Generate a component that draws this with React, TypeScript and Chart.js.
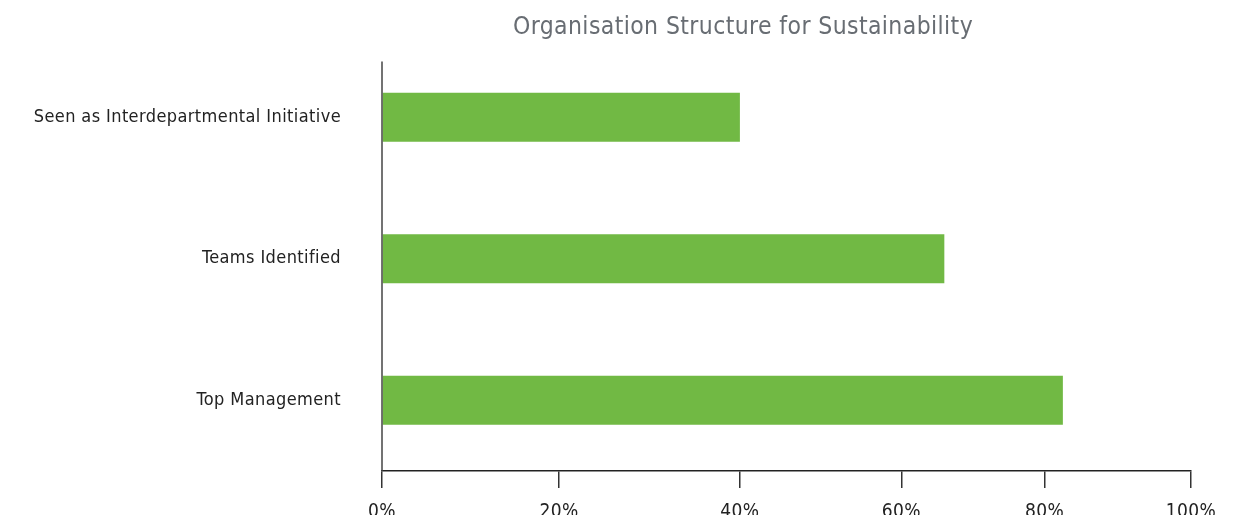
import React, { useEffect, useRef } from "react";
import { Chart, registerables, LinearScale } from "chart.js";

const chartTitle = "Organisation Structure for Sustainability";
const categories = [
  "Seen as Interdepartmental Initiative",
  "Teams Identified",
  "Top Management",
];
const shareValues = [40, 66, 82.5];
const tickValues = [0, 20, 40, 60, 80, 100];

// Axis layout: relative position of each tick along the (uneven) reference axis
const tickFractions = [0, 0.219, 0.4424, 0.642, 0.819, 1];

function valueToFraction(v: number): number {
  if (v <= tickValues[0]) return tickFractions[0];
  for (let i = 1; i < tickValues.length; i++) {
    if (v <= tickValues[i]) {
      const t = (v - tickValues[i - 1]) / (tickValues[i] - tickValues[i - 1]);
      return tickFractions[i - 1] + t * (tickFractions[i] - tickFractions[i - 1]);
    }
  }
  return tickFractions[tickFractions.length - 1];
}
function fractionToValue(f: number): number {
  if (f <= tickFractions[0]) return tickValues[0];
  for (let i = 1; i < tickFractions.length; i++) {
    if (f <= tickFractions[i]) {
      const t = (f - tickFractions[i - 1]) / (tickFractions[i] - tickFractions[i - 1]);
      return tickValues[i - 1] + t * (tickValues[i] - tickValues[i - 1]);
    }
  }
  return tickValues[tickValues.length - 1];
}

class SegmentedScale extends LinearScale {
  static id = "segmented";
  static defaults = LinearScale.defaults;
  getPixelForValue(value: number) {
    return this.getPixelForDecimal(valueToFraction(value));
  }
  getValueForPixel(pixel: number) {
    return fractionToValue(this.getDecimalForPixel(pixel));
  }
}

Chart.register(...registerables, SegmentedScale);

const FONT = "'DejaVu Sans Condensed', 'DejaVu Sans', sans-serif";
const LETTER_SPACING = "0.4px";

const spacingPlugin = {
  id: "spacing",
  beforeLayout(chart: any) {
    chart.ctx.letterSpacing = LETTER_SPACING;
  },
  beforeDraw(chart: any) {
    chart.ctx.letterSpacing = LETTER_SPACING;
  },
};

const titlePlugin = {
  id: "customTitle",
  afterDraw(chart: any) {
    const ctx = chart.ctx;
    ctx.save();
    ctx.letterSpacing = LETTER_SPACING;
    ctx.font = `24.5px ${FONT}`;
    ctx.fillStyle = "#686d73";
    ctx.textAlign = "center";
    ctx.textBaseline = "alphabetic";
    ctx.fillText(chartTitle, 735, 26);
    ctx.restore();
  },
};

const yLinePlugin = {
  id: "yLine",
  afterDraw(chart: any) {
    const { ctx, chartArea } = chart;
    ctx.save();
    ctx.strokeStyle = "#444";
    ctx.lineWidth = 1.5;
    ctx.beginPath();
    ctx.moveTo(chartArea.left, chartArea.top + 15);
    ctx.lineTo(chartArea.left, chartArea.bottom);
    ctx.stroke();
    ctx.restore();
  },
};

export default function App() {
  const canvasRef = useRef<HTMLCanvasElement | null>(null);

  useEffect(() => {
    document.documentElement.style.overflow = "hidden";
    document.body.style.overflow = "hidden";
    if (!canvasRef.current) return;
    const chart = new Chart(canvasRef.current, {
      type: "bar",
      data: {
        labels: categories,
        datasets: [
          {
            data: shareValues,
            backgroundColor: "#71b944",
            borderWidth: 0,
            categoryPercentage: 1,
            barPercentage: 0.346,
          },
        ],
      },
      options: {
        indexAxis: "y",
        animation: false,
        responsive: true,
        maintainAspectRatio: false,
        layout: { padding: { top: 38.5, right: 59, left: 0, bottom: 8 } },
        plugins: {
          legend: { display: false },
          title: { display: false },
          tooltip: { enabled: false },
        },
        scales: {
          x: {
            type: "segmented" as any,
            min: 0,
            max: 100,
            afterBuildTicks: (scale: any) => {
              scale.ticks = tickValues.map((v) => ({ value: v }));
            },
            afterFit: (scale: any) => {
              scale.height = 44;
              scale.paddingLeft = 0;
              scale.paddingRight = 0;
              scale.paddingTop = 0;
              scale.paddingBottom = 0;
            },
            grid: {
              display: true,
              drawOnChartArea: false,
              drawTicks: true,
              tickLength: 17,
              color: "#333",
              lineWidth: 1.5,
            },
            border: { display: true, color: "#222", width: 1.5 },
            ticks: {
              padding: 13,
              color: "#222",
              font: { family: FONT, size: 19 },
              callback: (v: any) => `${v}%`,
              maxRotation: 0,
              autoSkip: false,
            },
          },
          y: {
            type: "category",
            afterFit: (scale: any) => {
              scale.width = 374;
              scale.paddingLeft = 0;
              scale.paddingRight = 0;
              scale.paddingTop = 0;
              scale.paddingBottom = 0;
            },
            grid: { display: false, drawTicks: false },
            border: { display: false },
            ticks: {
              padding: 41,
              color: "#222",
              font: { family: FONT, size: 18 },
            },
          },
        },
      },
      plugins: [spacingPlugin, titlePlugin, yLinePlugin],
    });
    return () => chart.destroy();
  }, []);

  return (
    <div style={{ position: "relative", width: "1242px", height: "515px" }}>
      <canvas ref={canvasRef} />
    </div>
  );
}
